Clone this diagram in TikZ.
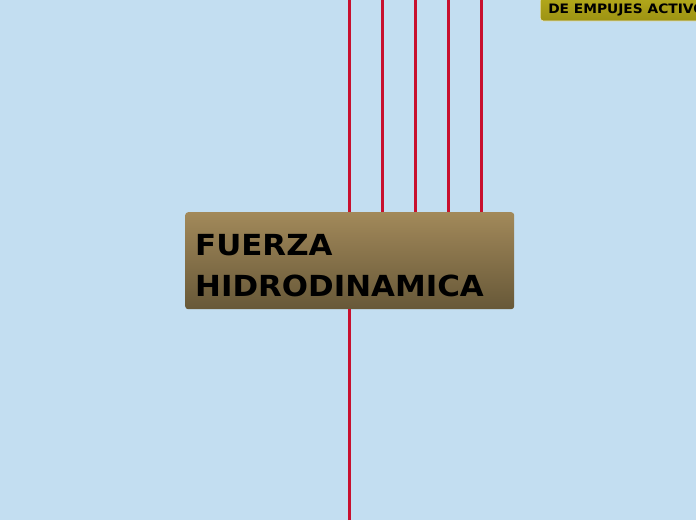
\documentclass[tikz,border=0pt]{standalone}
\usepackage{fontspec}
\setmainfont{DejaVu Sans}
\definecolor{bgblue}{HTML}{C3DEF1}
\definecolor{linkred}{HTML}{C8102E}
\definecolor{boxtop}{HTML}{A2895A}
\definecolor{boxbot}{HTML}{675838}
\definecolor{olivetop}{HTML}{B5AA1C}
\definecolor{olivebot}{HTML}{9C9212}
\tikzset{
  link/.style={linkred,line width=3pt},
  mainbox/.style={rounded corners=3pt,top color=boxtop,bottom color=boxbot,
    minimum width=329pt,minimum height=97pt,anchor=north west,inner sep=0pt},
  subbox/.style={rounded corners=3pt,top color=olivetop,bottom color=olivebot,
    draw=white!80!olivebot,line width=0.6pt,anchor=base west,inner xsep=8pt,inner ysep=8pt,
    text depth=0pt,font=\bfseries\fontsize{13}{15}\selectfont\addfontfeature{FakeStretch=1.06}}
}
\begin{document}
\begin{tikzpicture}[line cap=butt,line join=round,x=1pt,y=-1pt]
  \useasboundingbox (0,0) rectangle (696,520);
  \clip (0,0) rectangle (696,520);
  \fill[bgblue] (0,0) rectangle (696,520);
  % top free ends of the connectors
  \foreach \i/\x in {1/349,2/382,3/415,4/448,5/481}
    \coordinate (t\i) at (\x,0);
  \coordinate (b1) at (349,520);
  \node[mainbox] (fuerza) at (185,212) {};
  \foreach \i in {1,...,5}
    \draw[link] (t\i) -- (t\i |- fuerza.north);
  \draw[link] (b1) -- (b1 |- fuerza.south);
  \node[anchor=base west,align=left,inner sep=0pt,
    font=\bfseries\fontsize{29}{41}\selectfont\addfontfeature{FakeStretch=1.065}]
    (titulo) at (195,296) {FUERZA\\HIDRODINAMICA};
  \node[subbox] (empujes) at (540,13) {DE EMPUJES ACTIVOS};
\end{tikzpicture}
\end{document}
